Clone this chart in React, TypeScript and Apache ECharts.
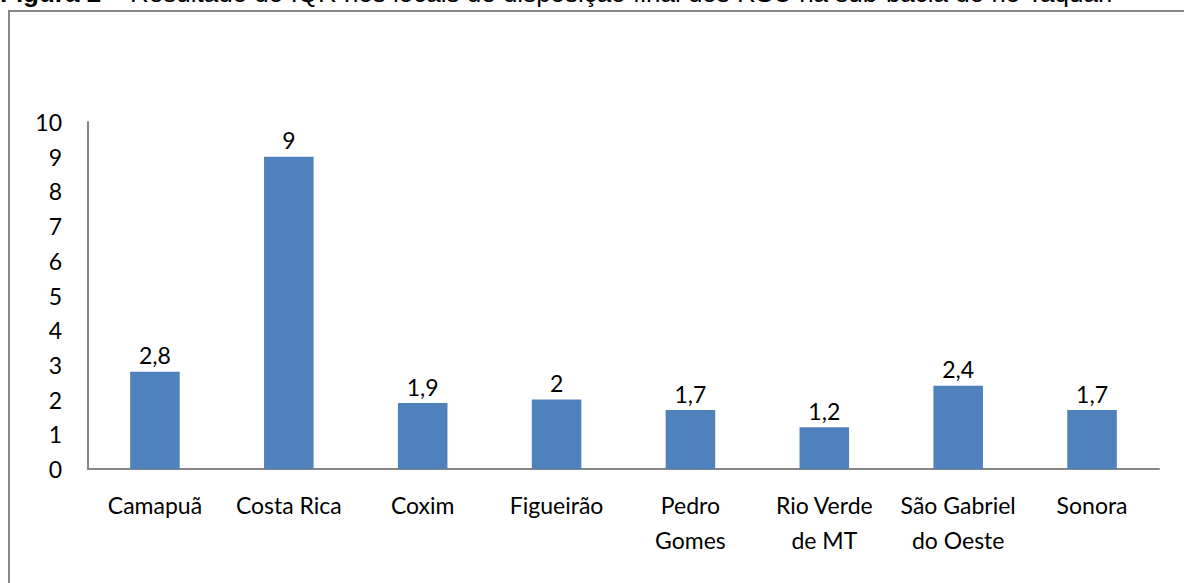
import React, { useEffect, useRef } from "react";
import * as echarts from "echarts";

const categories = [
  "Camapuã",
  "Costa Rica",
  "Coxim",
  "Figueirão",
  "Pedro\nGomes",
  "Rio Verde\nde MT",
  "São Gabriel\ndo Oeste",
  "Sonora",
];
const values = [2.8, 9, 1.9, 2, 1.7, 1.2, 2.4, 1.7];
const yTicks = { min: 0, max: 10, interval: 1 };

const FONT = "Lato";

export default function App() {
  const ref = useRef<HTMLDivElement>(null);
  useEffect(() => {
    if (!ref.current) return;
    const chart = echarts.init(ref.current, undefined, { renderer: "svg" });
    chart.setOption({
      animation: false,
      backgroundColor: "#ffffff",
      graphic: [
        {
          type: "rect",
          shape: { x: 9, y: 11, width: 1300, height: 700 },
          style: { fill: "none", stroke: "#878787", lineWidth: 2 },
          silent: true,
        },
        {
          type: "text",
          x: 0,
          y: 6,
          style: {
            text: "{b|Figura 2} – Resultado do IQR nos locais de disposição final dos RSU na sub-bacia do rio Taquari",
            font: "26px 'Liberation Sans'",
            fill: "#000",
            textVerticalAlign: "bottom",
            rich: {
              b: { fontWeight: "bold", fontSize: 26, fontFamily: "Liberation Sans" },
            },
          },
        },
      ],
      grid: { left: 88, right: 25, top: 122, bottom: 114, containLabel: false },
      xAxis: {
        type: "category",
        data: categories,
        axisLine: { show: true, lineStyle: { color: "#868686", width: 2 } },
        axisTick: { show: false },
        axisLabel: {
          interval: 0,
          color: "#000",
          fontFamily: FONT,
          fontSize: 23,
          lineHeight: 35,
          margin: 18,
        },
      },
      yAxis: {
        type: "value",
        min: yTicks.min,
        max: yTicks.max,
        interval: yTicks.interval,
        splitLine: { show: false },
        axisLine: { show: true, lineStyle: { color: "#868686", width: 2 } },
        axisTick: { show: false },
        axisLabel: {
          color: "#000",
          fontFamily: FONT,
          fontSize: 23,
          margin: 26,
        },
      },
      series: [
        {
          type: "bar",
          data: values,
          barCategoryGap: "63%",
          itemStyle: { color: "#4f81bd" },
          label: {
            show: true,
            position: "top",
            distance: 5,
            color: "#000",
            fontFamily: FONT,
            fontSize: 23,
            formatter: (p: any) => String(p.value).replace(".", ","),
          },
        },
      ],
    });
    return () => chart.dispose();
  }, []);
  return (
    <div
      ref={ref}
      style={{ position: "fixed", left: 0, top: 0, width: 1184, height: 583 }}
    />
  );
}
